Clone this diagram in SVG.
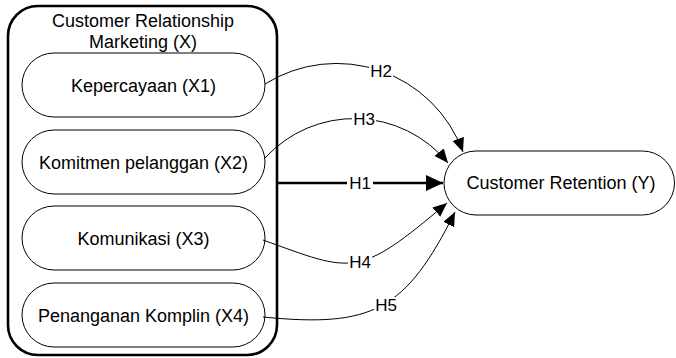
<svg xmlns="http://www.w3.org/2000/svg" width="676" height="358" viewBox="0 0 676 358">
  <style>
    text { font-family: "Liberation Sans", Arial, sans-serif; fill: #000; text-anchor: middle; }
    .node { fill: #fff; stroke: #000; stroke-width: 1; }
    .outer { fill: #fff; stroke: #000; stroke-width: 2.6; }
    .t { font-size: 18px; }
    .lbl { font-size: 17px; }
    .conn { fill: none; stroke: #000; stroke-width: 1; marker-end: url(#arr); }
    .thick { fill: none; stroke: #000; stroke-width: 2.6; marker-end: url(#arrBig); }
    .bg { fill: #fff; stroke: none; }
  </style>
  <defs>
    <marker id="arr" markerUnits="userSpaceOnUse" markerWidth="15" markerHeight="13" refX="14" refY="6" orient="auto">
      <path d="M0,0 L14,6 L0,12 z" fill="#000"/>
    </marker>
    <marker id="arrBig" markerUnits="userSpaceOnUse" markerWidth="18" markerHeight="17" refX="17" refY="8" orient="auto">
      <path d="M0,0 L17,8 L0,16 z" fill="#000"/>
    </marker>
  </defs>

  <g id="crm">
    <rect class="outer" x="8" y="6" width="269" height="349" rx="30" ry="30"/>
    <text class="t" x="143" y="27">Customer Relationship</text>
    <text class="t" x="143" y="48">Marketing (X)</text>
  </g>

  <g id="x1">
    <rect class="node" x="22" y="53" width="243" height="64" rx="32" ry="32"/>
    <text class="t" x="143.5" y="91.5">Kepercayaan (X1)</text>
  </g>
  <g id="x2">
    <rect class="node" x="22" y="130" width="243" height="64" rx="32" ry="32"/>
    <text class="t" x="143.5" y="168.5">Komitmen pelanggan (X2)</text>
  </g>
  <g id="x3">
    <rect class="node" x="22" y="206" width="243" height="64" rx="32" ry="32"/>
    <text class="t" x="143.5" y="244.5">Komunikasi (X3)</text>
  </g>
  <g id="x4">
    <rect class="node" x="22" y="283" width="243" height="64" rx="32" ry="32"/>
    <text class="t" x="143.5" y="321.5">Penanganan Komplin (X4)</text>
  </g>

  <g id="y">
    <rect class="node" x="444" y="151" width="230.5" height="64" rx="32" ry="32"/>
    <text class="t" x="561" y="189">Customer Retention (Y)</text>
  </g>

  <g id="connectors">
    <path class="thick" d="M277,183 L443,183"/>
    <path class="conn" d="M265,84 A134.6,134.6 0 0 1 463,152"/>
    <path class="conn" d="M265,158 A120.9,120.9 0 0 1 448,163"/>
    <path class="conn" d="M263,240 C353,272.4 357,279.5 447,203"/>
    <path class="conn" d="M263,317 C373,328 405.8,310.3 455,212"/>

    <rect class="bg" x="347" y="175" width="26" height="16"/>
    <text class="lbl" x="360" y="189">H1</text>
    <rect class="bg" x="369" y="63" width="24" height="16"/>
    <text class="lbl" x="381" y="77">H2</text>
    <rect class="bg" x="352" y="111" width="24" height="16"/>
    <text class="lbl" x="364" y="125">H3</text>
    <rect class="bg" x="348" y="254" width="24" height="16"/>
    <text class="lbl" x="360" y="268">H4</text>
    <rect class="bg" x="374" y="297" width="24" height="16"/>
    <text class="lbl" x="386" y="311">H5</text>
  </g>
</svg>
